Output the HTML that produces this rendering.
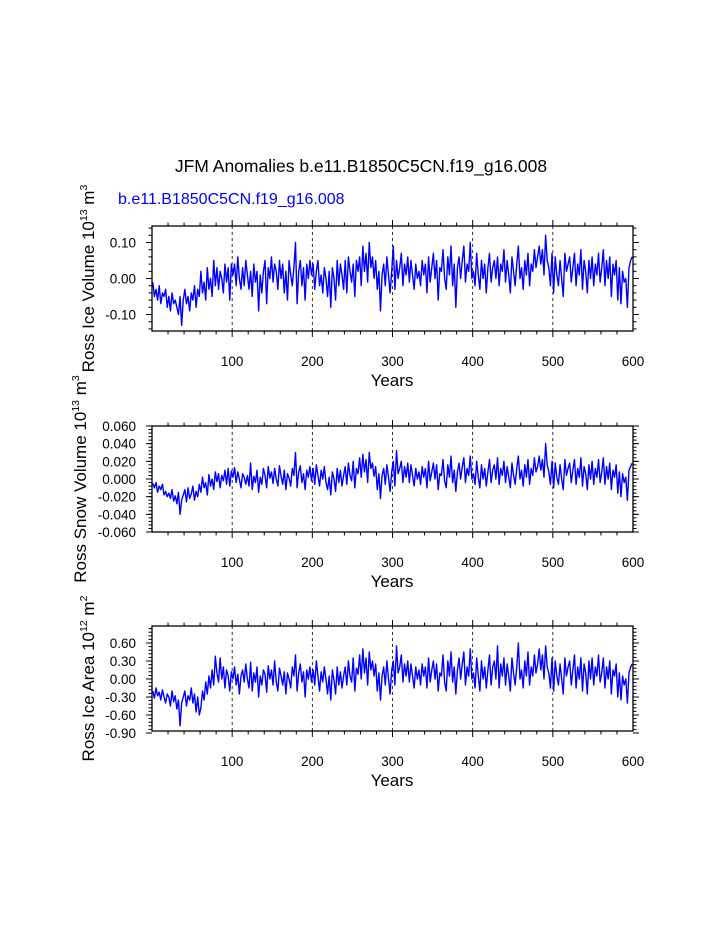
<!DOCTYPE html>
<html><head><meta charset="utf-8"><style>
html,body{margin:0;padding:0;background:#fff;}
svg{display:block;font-family:"Liberation Sans",sans-serif;}
</style></head><body>
<svg id="chart" width="723" height="935" viewBox="0 0 723 935">
<text x="361" y="172" text-anchor="middle" font-size="17.5">JFM Anomalies b.e11.B1850C5CN.f19_g16.008</text>
<text x="118" y="204" font-size="16" fill="#0000ff">b.e11.B1850C5CN.f19_g16.008</text>
</svg>
<script>
const years = Array.from({length:300},(_, i)=>1+2*i);
const xTicks = [100,200,300,400,500,600];
const iceVolume = [
-0.01,-0.05,-0.03,-0.06,-0.02,-0.07,-0.04,-0.05,-0.03,-0.08,
-0.05,-0.09,-0.04,-0.07,-0.06,-0.08,-0.10,-0.05,-0.13,-0.06,
-0.03,-0.07,-0.05,-0.09,-0.04,-0.06,-0.02,-0.08,-0.03,-0.05,
0.02,-0.04,-0.01,-0.06,0.03,-0.03,0.00,-0.05,0.05,-0.02,
0.03,-0.03,0.02,0.00,-0.04,0.04,-0.01,0.03,-0.06,0.04,
0.01,0.04,-0.02,0.06,0.00,-0.03,0.03,-0.02,0.05,0.01,
-0.03,0.02,-0.05,0.04,-0.01,0.02,-0.09,0.01,-0.04,0.02,
0.05,-0.07,0.03,0.00,0.06,-0.01,0.04,0.02,-0.03,0.05,
0.00,0.04,-0.04,0.02,-0.06,0.05,0.01,-0.02,0.03,0.10,
-0.07,0.02,0.05,-0.02,0.03,-0.06,0.04,0.00,0.05,0.01,
0.04,-0.03,0.02,0.05,-0.02,0.01,-0.04,0.03,0.00,-0.05,
0.02,-0.08,0.03,0.00,-0.06,0.05,-0.02,0.04,0.01,-0.03,
0.05,-0.04,0.06,0.02,-0.01,0.04,-0.05,0.05,0.02,0.06,
-0.02,0.09,0.02,0.07,-0.01,0.10,0.03,0.06,0.00,0.05,
-0.03,0.02,-0.09,0.01,0.04,-0.02,0.06,0.01,-0.04,0.02,
0.09,-0.03,0.05,0.00,0.03,0.07,-0.02,0.04,0.01,0.06,
-0.01,0.05,0.01,-0.03,0.04,0.00,0.02,-0.02,0.05,0.01,
0.04,-0.04,0.06,-0.01,0.03,0.07,0.00,0.05,-0.06,0.03,
0.02,0.08,0.00,-0.03,0.06,0.01,0.09,-0.02,0.04,-0.08,
0.03,0.06,0.00,0.05,0.09,-0.01,0.04,0.02,0.10,0.00,
0.02,-0.02,0.07,0.01,-0.03,0.05,0.00,0.04,-0.04,0.03,
0.07,-0.01,0.03,0.05,0.00,0.06,-0.02,0.04,0.02,0.08,
-0.01,0.05,0.01,-0.04,0.06,0.02,-0.02,0.04,0.09,0.00,
0.03,-0.03,0.05,0.01,0.07,-0.02,0.04,0.02,0.08,0.03,
0.06,0.09,0.04,0.08,0.01,0.12,0.05,0.03,-0.02,0.07,
-0.04,0.06,0.01,-0.02,0.05,0.00,-0.05,0.07,0.02,0.04,
0.06,-0.01,0.03,0.07,-0.02,0.04,0.01,0.08,-0.03,0.05,
0.02,-0.04,0.05,0.00,0.06,-0.02,0.04,0.01,0.07,-0.01,
0.03,0.08,-0.02,0.05,0.00,0.06,-0.05,0.04,0.01,0.05,
-0.06,0.03,-0.07,0.02,-0.01,0.00,-0.08,0.03,0.05,0.06];
const snowVolume = [
-0.005,-0.010,-0.004,-0.015,-0.008,-0.012,-0.006,-0.018,-0.014,-0.020,
-0.016,-0.022,-0.012,-0.025,-0.019,-0.028,-0.015,-0.040,-0.024,-0.018,
-0.012,-0.026,-0.010,-0.022,-0.017,-0.008,-0.024,-0.014,-0.020,-0.006,
-0.015,0.002,-0.010,-0.004,-0.018,0.005,-0.008,0.000,-0.012,0.008,
-0.003,0.006,-0.010,0.004,-0.002,0.010,-0.006,0.012,-0.008,0.009,
0.002,0.013,-0.004,0.008,0.000,-0.010,0.006,0.002,-0.006,0.004,
-0.008,0.018,-0.012,0.003,-0.004,0.010,-0.015,0.002,-0.006,0.012,
0.004,-0.010,0.014,0.001,0.008,-0.005,0.012,0.000,-0.008,0.015,
0.003,-0.006,0.010,-0.012,0.006,0.001,-0.008,0.012,0.004,0.030,
-0.010,0.008,0.015,-0.004,0.006,-0.012,0.010,0.002,0.014,-0.002,
0.012,-0.006,0.016,0.004,-0.008,0.010,0.000,0.014,-0.004,-0.012,
0.002,-0.018,0.008,0.000,-0.014,0.012,-0.004,0.010,-0.008,0.004,
0.014,-0.006,0.018,0.004,-0.002,0.020,-0.010,0.012,0.006,0.024,
0.002,0.028,0.008,0.022,-0.004,0.030,0.012,0.018,0.003,0.014,
-0.012,0.006,-0.022,0.004,0.012,-0.006,0.016,0.002,-0.014,0.008,
0.020,-0.008,0.032,0.006,0.012,0.020,-0.004,0.014,0.002,0.018,
-0.004,0.016,0.004,-0.008,0.012,0.000,0.008,-0.006,0.014,0.002,
0.012,-0.010,0.020,-0.002,0.008,0.018,0.000,0.016,-0.012,0.006,
0.004,0.022,-0.002,-0.010,0.016,0.002,0.026,-0.004,0.010,-0.014,
0.008,0.018,0.000,0.014,0.024,-0.004,0.012,0.004,0.026,0.000,
0.006,-0.006,0.020,0.002,-0.010,0.016,0.000,0.012,-0.008,0.008,
0.022,-0.004,0.010,0.016,0.000,0.024,-0.006,0.012,0.004,0.020,
-0.004,0.014,0.002,-0.010,0.018,0.004,-0.006,0.012,0.026,0.000,
0.010,-0.008,0.016,0.002,0.022,-0.006,0.012,0.004,0.024,0.008,
0.014,0.026,0.010,0.022,0.002,0.040,0.016,0.008,-0.006,0.020,
-0.010,0.018,0.002,-0.006,0.016,0.000,-0.012,0.022,0.004,0.012,
0.018,-0.004,0.010,0.022,-0.006,0.012,0.002,0.024,-0.008,0.014,
0.006,-0.012,0.016,0.000,0.020,-0.006,0.012,0.002,0.022,-0.004,
0.008,0.024,-0.006,0.014,0.000,0.018,-0.012,0.010,0.002,0.016,
-0.016,0.008,-0.020,0.006,-0.004,0.002,-0.024,0.010,0.014,0.018];
const iceArea = [
-0.20,-0.32,-0.15,-0.28,-0.22,-0.35,-0.18,-0.30,-0.40,-0.25,
-0.30,-0.45,-0.20,-0.38,-0.28,-0.50,-0.35,-0.78,-0.40,-0.30,
-0.20,-0.45,-0.28,-0.35,-0.15,-0.40,-0.25,-0.55,-0.30,-0.60,
-0.48,-0.20,-0.35,-0.05,-0.25,0.05,-0.15,0.15,-0.10,0.38,
0.10,-0.05,0.35,0.00,0.20,-0.15,0.15,0.05,-0.20,0.12,
0.00,0.20,-0.10,0.08,-0.25,0.05,0.15,-0.05,0.25,0.00,
-0.15,0.28,-0.20,0.10,-0.05,0.20,-0.30,0.05,-0.10,0.15,
0.08,-0.22,0.22,0.00,0.15,-0.10,0.30,-0.05,-0.20,0.18,
0.05,-0.10,0.12,-0.25,0.10,0.00,-0.15,0.20,0.05,0.40,
-0.20,0.10,0.25,-0.05,0.12,-0.30,0.15,0.00,0.20,-0.05,
0.15,-0.10,0.30,0.05,-0.20,0.12,-0.05,0.20,0.00,-0.25,
0.05,-0.35,0.15,-0.02,-0.25,0.20,-0.10,0.12,-0.15,0.05,
0.20,-0.10,0.30,0.05,-0.05,0.35,-0.20,0.18,0.08,0.40,
0.00,0.50,0.10,0.35,-0.10,0.45,0.15,0.30,0.05,0.25,
-0.20,0.10,-0.35,0.05,0.20,-0.10,0.30,0.00,-0.25,0.15,
0.30,-0.10,0.55,0.10,0.20,0.40,-0.05,0.25,0.05,0.30,
-0.05,0.25,0.05,-0.15,0.20,0.00,0.15,-0.10,0.25,0.05,
0.20,-0.15,0.35,-0.05,0.15,0.30,0.00,0.25,-0.20,0.10,
0.05,0.40,-0.05,-0.20,0.30,0.05,0.45,-0.05,0.20,-0.25,
0.15,0.35,0.00,0.25,0.45,-0.10,0.20,0.05,0.50,0.00,
0.10,-0.15,0.35,0.05,-0.20,0.30,0.00,0.20,-0.15,0.15,
0.40,-0.10,0.20,0.30,0.00,0.55,-0.15,0.25,0.05,0.35,
-0.10,0.25,0.05,-0.20,0.35,0.10,-0.10,0.20,0.60,0.00,
0.15,-0.15,0.30,0.05,0.45,-0.10,0.20,0.05,0.40,0.10,
0.25,0.50,0.15,0.40,0.00,0.55,0.20,0.10,-0.15,0.35,
-0.20,0.30,0.05,-0.10,0.25,0.00,-0.25,0.35,0.05,0.20,
0.30,-0.10,0.15,0.40,-0.15,0.20,0.00,0.35,-0.20,0.25,
0.10,-0.25,0.30,0.00,0.35,-0.10,0.20,0.05,0.40,-0.05,
0.10,0.35,-0.15,0.20,0.00,0.30,-0.25,0.15,0.05,0.25,
-0.30,0.10,-0.35,0.05,-0.10,0.00,-0.40,0.10,0.20,0.25];
const volTicks = [0.10,0.00,-0.10];
const volTickLabels = ["0.10","0.00","-0.10"];
const snowTicks = [0.06,0.04,0.02,0.00,-0.02,-0.04,-0.06];
const snowTickLabels = ["0.060","0.040","0.020","0.000","-0.020","-0.040","-0.060"];
const areaTicks = [0.60,0.30,0.00,-0.30,-0.60,-0.90];
const areaTickLabels = ["0.60","0.30","0.00","-0.30","-0.60","-0.90"];

const svg = document.getElementById('chart');
const NS = 'http://www.w3.org/2000/svg';
function mk(tag, attrs, parent){
  const e = document.createElementNS(NS, tag);
  for (const k in attrs) e.setAttribute(k, attrs[k]);
  (parent||svg).appendChild(e);
  return e;
}
const X0 = 152, X1 = 633;
function xScale(yr){ return X0 + (yr/600)*(X1-X0); }

function panel(name, top, bottom, vmin, vmax, ticks, labels, minorStep, values, titleParts, titleX){
  const g = mk('g', {});
  
  
  const yScale = v => bottom - (v - vmin)/(vmax - vmin)*(bottom - top);
  for (const t of [100,200,300,400,500]) {
    const l = mk('line', {x1:xScale(t), x2:xScale(t), y1:top, y2:bottom, stroke:'#000', 'stroke-width':0.8, 'stroke-dasharray':'3,3'}, g);
    
    
  }
  let d = '';
  values.forEach((v,i)=>{ d += (i?'L':'M') + xScale(years[i]).toFixed(2) + ',' + yScale(v).toFixed(2); });
  const p = mk('path', {d:d, fill:'none', stroke:'#0000ff', 'stroke-width':1.4, 'stroke-linejoin':'round'}, g);
  
  
  for (let t = 20; t < 600; t += 20) {
    const len = (t % 100 === 0) ? 6 : 3.5;
    mk('line', {x1:xScale(t), x2:xScale(t), y1:top, y2:top-len, stroke:'#000', 'stroke-width':1}, g);
    mk('line', {x1:xScale(t), x2:xScale(t), y1:bottom, y2:bottom+len, stroke:'#000', 'stroke-width':1}, g);
  }
  const start = Math.ceil((vmin-1e-9)/minorStep);
  for (let k = start; k*minorStep <= vmax+1e-9; k++) {
    const y = yScale(k*minorStep);
    mk('line', {x1:X0, x2:X0-3.5, y1:y, y2:y, stroke:'#000', 'stroke-width':1}, g);
    mk('line', {x1:X1, x2:X1+3.5, y1:y, y2:y, stroke:'#000', 'stroke-width':1}, g);
  }
  ticks.forEach((t,i)=>{
    const y = yScale(t);
    mk('line', {x1:X0, x2:X0-6, y1:y, y2:y, stroke:'#000', 'stroke-width':1}, g);
    mk('line', {x1:X1, x2:X1+6, y1:y, y2:y, stroke:'#000', 'stroke-width':1}, g);
    const tx = mk('text', {x:X0-16, y:y+5, 'text-anchor':'end', 'font-size':13.5}, g);
    tx.textContent = labels[i];
    
    
  });
  xTicks.forEach(t=>{
    const tx = mk('text', {x:xScale(t), y:bottom+35, 'text-anchor':'middle', 'font-size':13.5}, g);
    tx.textContent = String(t);
    
    
  });
  const xt = mk('text', {x:(X0+X1)/2 - 0.5, y:bottom+55, 'text-anchor':'middle', 'font-size':17}, g);
  xt.textContent = 'Years';
  
  
  const fr = mk('rect', {x:X0, y:top, width:X1-X0, height:bottom-top, fill:'none', stroke:'#000', 'stroke-width':1.3}, g);
  
  
  const cy = (top+bottom)/2;
  const yt = mk('text', {x:titleX, y:cy, 'text-anchor':'middle', 'font-size':17, transform:'rotate(-90 '+titleX+' '+cy+')'}, g);
  
  
  titleParts.forEach(pt=>{
    const ts = mk('tspan', pt.sup ? {'font-size':10.5, dy:-7} : (pt.after ? {dy:7} : {}), yt);
    ts.textContent = pt.t;
  });
}
panel('ice-volume', 226, 331, -0.1458, 0.1458, volTicks, volTickLabels, 0.02, iceVolume,
  [{t:'Ross Ice Volume 10'},{t:'13',sup:true},{t:' m',after:true},{t:'3',sup:true}], 94);
panel('snow-volume', 426, 532, -0.06, 0.06, snowTicks, snowTickLabels, 0.004, snowVolume,
  [{t:'Ross Snow Volume 10'},{t:'13',sup:true},{t:' m',after:true},{t:'3',sup:true}], 86);
panel('ice-area', 626, 731, -0.8667, 0.8833, areaTicks, areaTickLabels, 0.06, iceArea,
  [{t:'Ross Ice Area 10'},{t:'12',sup:true},{t:' m',after:true},{t:'2',sup:true}], 94);
</script>
</body></html>
